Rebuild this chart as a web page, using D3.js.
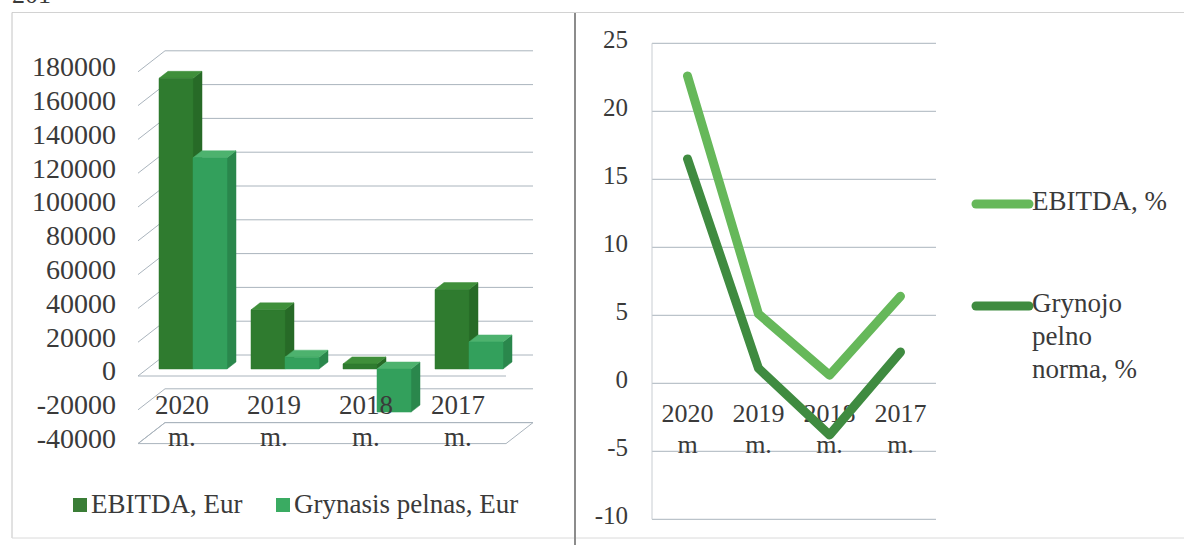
<!DOCTYPE html>
<html>
<head>
<meta charset="utf-8">
<script src="https://cdn.jsdelivr.net/npm/d3@7/dist/d3.min.js"></script>
<style>
  html, body { margin: 0; padding: 0; background: #ffffff; }
  svg { display: block; }
  text { font-family: "Liberation Serif", "Times New Roman", serif; fill: #3a3a3a; }
</style>
</head>
<body>
<svg id="chart" width="1184" height="545"></svg>
<script>
// ---------- DATA ----------
const categories = ["2020", "2019", "2018", "2017"];
const barCatLine2 = ["m.", "m.", "m.", "m."];
const lineCatLine2 = ["m", "m.", "m.", "m."];
const barSeriesNames = ["EBITDA, Eur", "Grynasis pelnas, Eur"];
const ebitdaEur = [172000, 35000, 3000, 47000];
const grynasisEur = [125000, 7000, -25500, 16000];
const barTicks = [-40000, -20000, 0, 20000, 40000, 60000, 80000, 100000, 120000, 140000, 160000, 180000];
const lineSeriesNames = ["EBITDA, %", "Grynojo pelno norma, %"];
const ebitdaPct = [22.6, 5.1, 0.6, 6.4];
const grynojoPct = [16.5, 1.1, -3.8, 2.3];
const lineTicks = [-10, -5, 0, 5, 10, 15, 20, 25];

// ---------- SETUP ----------
const svg = d3.select("#chart");
const grid = "#aab4bd";

// Panel frame
svg.append("line").attr("x1", 12).attr("x2", 1184).attr("y1", 12.5).attr("y2", 12.5).attr("stroke", "#d2d2d2");
svg.append("line").attr("x1", 12).attr("x2", 12).attr("y1", 12.5).attr("y2", 538).attr("stroke", "#c4c4c4");
svg.append("line").attr("x1", 12).attr("x2", 1184).attr("y1", 538).attr("y2", 538).attr("stroke", "#dadada");
svg.append("line").attr("x1", 575).attr("x2", 575).attr("y1", 13).attr("y2", 545).attr("stroke", "#8c8c8c").attr("stroke-width", 2);
svg.append("text").attr("x", 12).attr("y", 3).attr("font-size", 26).text("201");

// ---------- LEFT: 3D clustered columns ----------
const yF = d3.scaleLinear().domain([-40000, 180000]).range([443.6, 71.8]);
const xB = d3.scaleBand().domain(categories).range([138, 506]);
const DX = 27, DY = -21;
const P = (x, v, d) => [x + DX * d, yF(v) + DY * d];
const left = svg.append("g");

// side wall diagonals + back wall gridlines
barTicks.forEach(t => {
  const a = P(138, t, 0), b = P(138, t, 1), c = P(506, t, 1);
  left.append("line").attr("x1", a[0]).attr("y1", a[1]).attr("x2", b[0]).attr("y2", b[1])
    .attr("stroke", grid).attr("stroke-width", 1);
  left.append("line").attr("x1", b[0]).attr("y1", b[1]).attr("x2", c[0]).attr("y2", c[1])
    .attr("stroke", grid).attr("stroke-width", 1);
});
// floor at minimum
const fl = [P(138, -40000, 0), P(138, -40000, 1), P(506, -40000, 1), P(506, -40000, 0)];
left.append("polygon").attr("points", fl.map(p => p.join(",")).join(" "))
  .attr("fill", "none").attr("stroke", grid).attr("stroke-width", 1);
// front zero line
left.append("line").attr("x1", P(138, 0, 0)[0]).attr("y1", P(138, 0, 0)[1])
  .attr("x2", P(506, 0, 0)[0]).attr("y2", P(506, 0, 0)[1]).attr("stroke", grid);

// y tick labels
left.selectAll("text.yt").data(barTicks).join("text").attr("class", "yt")
  .attr("x", 116).attr("y", d => yF(d) - 2).attr("text-anchor", "end")
  .attr("dominant-baseline", "middle").attr("font-size", 28).text(d => d);

// bars
const barColors = [
  { front: "#2f7b2f", top: "#3f8f3a", side: "#276a27" },
  { front: "#33a05c", top: "#4db26e", side: "#2a874c" }
];
const seriesVals = [ebitdaEur, grynasisEur];
const d1 = 1 / 3, d2 = 2 / 3, bw = 34;
const poly = (pts, fill) => left.append("polygon")
  .attr("points", pts.map(p => p.join(",")).join(" ")).attr("fill", fill)
  .attr("stroke", fill).attr("stroke-width", 0.5);
categories.forEach((c, ci) => {
  const center = xB(c) + xB.bandwidth() / 2;
  [0, 1].forEach(si => {
    const v = seriesVals[si][ci];
    const x0 = center - bw + si * bw, x1 = x0 + bw;
    const vt = Math.max(v, 0), vb = Math.min(v, 0);
    const col = barColors[si];
    poly([P(x1, vt, d1), P(x1, vt, d2), P(x1, vb, d2), P(x1, vb, d1)], col.side);
    poly([P(x0, vt, d1), P(x1, vt, d1), P(x1, vt, d2), P(x0, vt, d2)], col.top);
    poly([P(x0, vt, d1), P(x1, vt, d1), P(x1, vb, d1), P(x0, vb, d1)], col.front);
  });
});

// category labels (drawn over bars)
categories.forEach((c, i) => {
  const cx = xB(c) + xB.bandwidth() / 2 - 2;
  left.append("text").attr("x", cx).attr("y", 408).attr("text-anchor", "middle")
    .attr("dominant-baseline", "middle").attr("font-size", 27).text(c);
  left.append("text").attr("x", cx).attr("y", 440).attr("text-anchor", "middle")
    .attr("dominant-baseline", "middle").attr("font-size", 27).text(barCatLine2[i]);
});

// left legend
const legL = [{ x: 73, color: "#3a7d36", name: barSeriesNames[0] }, { x: 276, color: "#3aab62", name: barSeriesNames[1] }];
legL.forEach(l => {
  svg.append("rect").attr("x", l.x).attr("y", 498).attr("width", 14).attr("height", 14).attr("fill", l.color);
  svg.append("text").attr("x", l.x + 18).attr("y", 507).attr("dominant-baseline", "middle")
    .attr("font-size", 27).text(l.name);
});

// ---------- RIGHT: line chart ----------
const yR = d3.scaleLinear().domain([-10, 25]).range([519.3, 43.3]);
const xR = d3.scaleBand().domain(categories).range([652, 936]);
const cxR = c => xR(c) + xR.bandwidth() / 2;
const right = svg.append("g");

right.selectAll("line.gr").data(lineTicks).join("line").attr("class", "gr")
  .attr("x1", 652).attr("x2", 936).attr("y1", d => yR(d)).attr("y2", d => yR(d))
  .attr("stroke", grid).attr("stroke-width", 1);
right.append("line").attr("x1", 652).attr("x2", 652).attr("y1", yR(25)).attr("y2", yR(-10))
  .attr("stroke", "#c8cdd2").attr("stroke-width", 1);
right.selectAll("text.yt").data(lineTicks).join("text").attr("class", "yt")
  .attr("x", 628).attr("y", d => yR(d) - 1).attr("text-anchor", "end")
  .attr("dominant-baseline", "middle").attr("font-size", 25).text(d => d);

categories.forEach((c, i) => {
  right.append("text").attr("x", cxR(c)).attr("y", 416).attr("text-anchor", "middle")
    .attr("dominant-baseline", "middle").attr("font-size", 26).text(c);
  right.append("text").attr("x", cxR(c)).attr("y", 447).attr("text-anchor", "middle")
    .attr("dominant-baseline", "middle").attr("font-size", 26).text(lineCatLine2[i]);
});

const lineColors = ["#66b85a", "#3f8b40"];
const lineGen = d3.line().x((d, i) => cxR(categories[i])).y(d => yR(d));
[ebitdaPct, grynojoPct].forEach((vals, si) => {
  right.append("path").attr("d", lineGen(vals)).attr("fill", "none")
    .attr("stroke", lineColors[si]).attr("stroke-width", 9)
    .attr("stroke-linecap", "round").attr("stroke-linejoin", "round");
});

// right legend
const legR = [
  { y: 204, color: lineColors[0], lines: ["EBITDA, %"] },
  { y: 306, color: lineColors[1], lines: ["Grynojo", "pelno", "norma, %"] }
];
legR.forEach(l => {
  svg.append("line").attr("x1", 976).attr("x2", 1029).attr("y1", l.y).attr("y2", l.y)
    .attr("stroke", l.color).attr("stroke-width", 9).attr("stroke-linecap", "round");
  l.lines.forEach((t, k) => {
    svg.append("text").attr("x", 1032).attr("y", l.y + k * 33).attr("dominant-baseline", "middle")
      .attr("font-size", 27).text(t);
  });
});
</script>
</body>
</html>
